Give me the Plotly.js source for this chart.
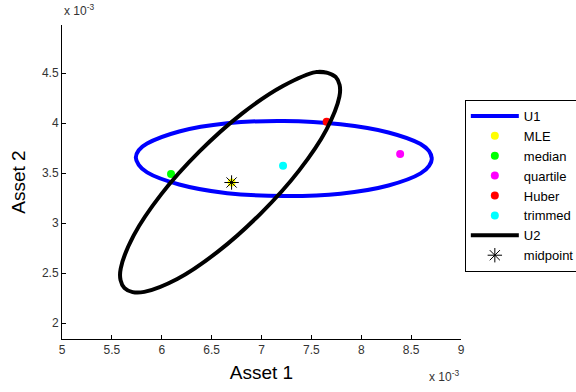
<!DOCTYPE html>
<html>
<head>
<meta charset="utf-8">
<script src="https://cdn.plot.ly/plotly-3.0.1.min.js"></script>
<style>
  html, body { margin: 0; padding: 0; background: #ffffff; }
  #chart { width: 576px; height: 392px; }
</style>
</head>
<body>
<div id="chart"></div>
<script>
// All values in units of 1e-3 (axes carry the "x 10^-3" multiplier)
// U1 ellipse outline (closed path)
var u1X = [8.708, 8.680, 8.595, 8.273, 7.792, 7.224, 6.656, 6.175, 5.853, 5.769, 5.740, 5.769, 5.853, 6.175, 6.656, 7.224, 7.792, 8.273, 8.595, 8.680, 8.708, 8.680, 8.595];
var u1Y = [3.645, 3.718, 3.789, 3.905, 3.987, 4.020, 3.997, 3.915, 3.794, 3.728, 3.655, 3.582, 3.506, 3.385, 3.298, 3.270, 3.293, 3.375, 3.496, 3.572, 3.645, 3.718, 3.789];
// U2 ellipse outline (closed path)
var u2X = [7.743, 7.662, 7.545, 7.215, 6.804, 6.376, 5.994, 5.719, 5.589, 5.587, 5.627, 5.708, 5.825, 6.155, 6.566, 6.994, 7.376, 7.651, 7.781, 7.783, 7.743, 7.662, 7.545];
var u2Y = [4.461, 4.501, 4.509, 4.370, 4.094, 3.713, 3.286, 2.876, 2.547, 2.429, 2.349, 2.309, 2.311, 2.440, 2.716, 3.097, 3.524, 3.934, 4.263, 4.381, 4.461, 4.501, 4.509];
// Estimators (x, y)
var estNames = ["MLE", "median", "quartile", "Huber", "trimmed"];
var estX = [6.70, 6.093, 8.39, 7.653, 7.216];
var estY = [3.405, 3.49, 3.69, 4.013, 3.573];
var estColors = ["#ffff00", "#00ff00", "#ff00ff", "#ff0000", "#00ffff"];
// Midpoint
var midX = [6.70];
var midY = [3.405];
// Ticks
var xTicks = [5, 5.5, 6, 6.5, 7, 7.5, 8, 8.5, 9];
var xTickText = ["5", "5.5", "6", "6.5", "7", "7.5", "8", "8.5", "9"];
var yTicks = [2, 2.5, 3, 3.5, 4, 4.5];
var yTickText = ["2", "2.5", "3", "3.5", "4", "4.5"];

var FONT = "Liberation Sans, Arial, Helvetica, sans-serif";

var traces = [];
traces.push({
  x: u1X, y: u1Y, name: "U1", type: "scatter", mode: "lines",
  line: { color: "#0000ff", width: 4, shape: "spline", smoothing: 1 },
  hoverinfo: "skip"
});
for (var i = 0; i < estNames.length; i++) {
  traces.push({
    x: [estX[i]], y: [estY[i]], name: estNames[i], type: "scatter", mode: "markers",
    marker: { color: estColors[i], size: 8, symbol: "circle" }
  });
}
traces.push({
  x: u2X, y: u2Y, name: "U2", type: "scatter", mode: "lines",
  line: { color: "#000000", width: 4, shape: "spline", smoothing: 1 },
  hoverinfo: "skip"
});
traces.push({
  x: midX, y: midY, name: "midpoint", type: "scatter", mode: "markers",
  marker: { symbol: "asterisk-open", size: 12, color: "#000000", line: { color: "#000000", width: 1 } }
});

var axisCommon = {
  showgrid: false, zeroline: false, showline: true, linecolor: "#000000", linewidth: 1,
  ticks: "inside", ticklen: 4, tickcolor: "#000000", tickwidth: 1,
  tickfont: { family: FONT, size: 12, color: "#333333" },
  tickmode: "array", mirror: false
};

var layout = {
  width: 576, height: 392,
  margin: { l: 62, r: 115, t: 25, b: 53 },
  paper_bgcolor: "#ffffff", plot_bgcolor: "#ffffff",
  font: { family: FONT, size: 12, color: "#000000" },
  showlegend: true,
  legend: {
    xref: "container", yref: "container",
    x: 0.807, y: 0.745, xanchor: "left", yanchor: "top",
    bgcolor: "#ffffff", bordercolor: "#000000", borderwidth: 1,
    font: { family: FONT, size: 13, color: "#000000" },
    tracegroupgap: 0, itemwidth: 48
  },
  xaxis: Object.assign({}, axisCommon, {
    range: [5, 9], tickvals: xTicks, ticktext: xTickText,
    title: { text: "Asset 1", font: { family: FONT, size: 19, color: "#000000" }, standoff: 9 }
  }),
  yaxis: Object.assign({}, axisCommon, {
    range: [1.84, 4.98], tickvals: yTicks, ticktext: yTickText,
    title: { text: "Asset 2", font: { family: FONT, size: 19, color: "#000000" }, standoff: 11 }
  }),
  annotations: [
    { text: "x 10<sup>-3</sup>", xref: "paper", yref: "paper", x: 0, y: 1.015,
      xanchor: "left", yanchor: "bottom", showarrow: false,
      font: { family: FONT, size: 12, color: "#333333" } },
    { text: "x 10<sup>-3</sup>", xref: "paper", yref: "paper", x: 0.915, y: -0.15,
      xanchor: "left", yanchor: "bottom", showarrow: false,
      font: { family: FONT, size: 12, color: "#333333" } }
  ]
};

Plotly.newPlot("chart", traces, layout, { staticPlot: true, displayModeBar: false });
</script>
</body>
</html>
